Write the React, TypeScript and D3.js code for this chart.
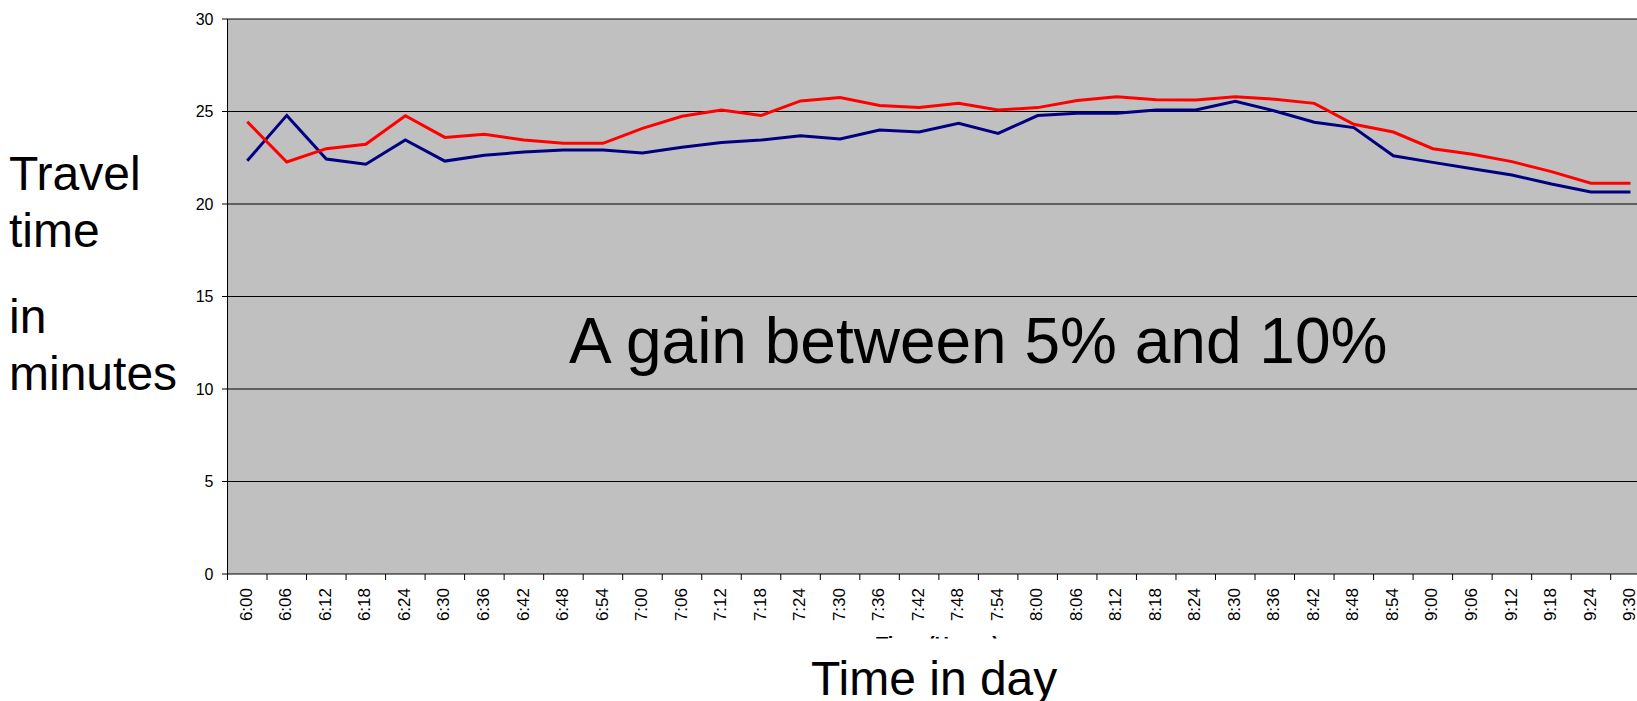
import React from 'react';
import * as d3 from 'd3';

// Departure times (category axis)
const times = [
  '6:00', '6:06', '6:12', '6:18', '6:24', '6:30', '6:36', '6:42', '6:48', '6:54',
  '7:00', '7:06', '7:12', '7:18', '7:24', '7:30', '7:36', '7:42', '7:48', '7:54',
  '8:00', '8:06', '8:12', '8:18', '8:24', '8:30', '8:36', '8:42', '8:48', '8:54',
  '9:00', '9:06', '9:12', '9:18', '9:24', '9:30',
];

// Travel time in minutes, reference case (red)
const baselineMinutes = [
  24.45, 22.27, 22.99, 23.23, 24.77, 23.6, 23.77, 23.46, 23.28, 23.28,
  24.09, 24.74, 25.08, 24.78, 25.57, 25.75, 25.33, 25.21, 25.44, 25.08,
  25.21, 25.59, 25.8, 25.64, 25.62, 25.8, 25.66, 25.44, 24.31, 23.89,
  22.99, 22.69, 22.29, 21.75, 21.12, 21.12,
];

// Travel time in minutes, improved case (navy)
const improvedMinutes = [
  22.34, 24.79, 22.43, 22.15, 23.46, 22.32, 22.63, 22.81, 22.92, 22.92,
  22.76, 23.07, 23.32, 23.46, 23.69, 23.51, 24.0, 23.89, 24.36, 23.82,
  24.78, 24.9, 24.9, 25.08, 25.08, 25.55, 25.03, 24.42, 24.13, 22.61,
  22.25, 21.91, 21.57, 21.08, 20.65, 20.65,
];

const yTicks = [0, 5, 10, 15, 20, 25, 30];
const yTitleLines = ['Travel', 'time', 'in', 'minutes'];

const W = 1637;
const H = 701;
const FONT = "'Liberation Sans', Arial, Helvetica, sans-serif";
const plot = { left: 227.5, top: 19, bottom: 574, step: 39.52 };

export default function App() {
  const x = d3
    .scaleBand<string>()
    .domain(times)
    .range([plot.left, plot.left + times.length * plot.step])
    .padding(0);
  const y = d3.scaleLinear().domain([0, 30]).range([plot.bottom, plot.top]);
  const cx = (t: string) => (x(t) as number) + x.bandwidth() / 2;
  const line = d3
    .line<number>()
    .x((_, i) => cx(times[i]))
    .y((d) => y(d));
  const right = plot.left + times.length * plot.step;
  const tickXs = times.map((t) => x(t) as number).concat([right]);
  const titleY = [190, 247, 333, 390];

  return (
    <svg
      width={W}
      height={H}
      style={{ position: 'absolute', left: 0, top: 0, background: '#fff' }}
      fontFamily={FONT}
    >
      <rect x={0} y={0} width={W} height={H} fill="#fff" />
      {/* plot area */}
      <rect
        x={plot.left}
        y={plot.top}
        width={right - plot.left}
        height={plot.bottom - plot.top}
        fill="#C0C0C0"
      />
      {/* horizontal gridlines */}
      {yTicks.map((v) => (
        <line key={`g${v}`} x1={plot.left} x2={right} y1={y(v)} y2={y(v)} stroke="#000" strokeWidth={1} />
      ))}
      {/* left axis */}
      <line x1={plot.left} x2={plot.left} y1={plot.top} y2={plot.bottom + 6} stroke="#000" strokeWidth={1} />
      {yTicks.map((v) => (
        <g key={`yt${v}`}>
          <line x1={plot.left - 5.5} x2={plot.left} y1={y(v)} y2={y(v)} stroke="#000" strokeWidth={1} />
          <text x={213.5} y={y(v)} dy="0.36em" textAnchor="end" fontSize={16} fill="#000">
            {v}
          </text>
        </g>
      ))}
      {/* bottom axis ticks and labels */}
      {tickXs.map((tx, i) => (
        <line key={`xt${i}`} x1={tx} x2={tx} y1={plot.bottom} y2={plot.bottom + 6} stroke="#000" strokeWidth={1} />
      ))}
      {times.map((t) => (
        <text
          key={`xl${t}`}
          transform={`translate(${cx(t) - 1.5},588) rotate(-90)`}
          dy="0.36em"
          textAnchor="end"
          fontSize={17}
          fill="#000"
        >
          {t}
        </text>
      ))}
      {/* series */}
      <path d={line(improvedMinutes) ?? ''} fill="none" stroke="#000080" strokeWidth={3} strokeLinejoin="miter" />
      <path d={line(baselineMinutes) ?? ''} fill="none" stroke="#FF0000" strokeWidth={3} strokeLinejoin="miter" />
      {/* annotation */}
      <text x={569} y={362.7} fontSize={64} fill="#000">
        A gain between 5% and 10%
      </text>
      {/* original axis title, mostly covered by the caption box */}
      <text x={876} y={650.5} fontSize={20} fontWeight="bold" fill="#000">
        Time (Hours)
      </text>
      <rect x={700} y={638.5} width={500} height={H - 638.5} fill="#fff" />
      <text x={811} y={695} fontSize={48} fill="#000">
        Time in day
      </text>
      {/* vertical title */}
      {yTitleLines.map((s, i) => (
        <text key={s} x={9} y={titleY[i]} fontSize={48} fill="#000">
          {s}
        </text>
      ))}
    </svg>
  );
}
